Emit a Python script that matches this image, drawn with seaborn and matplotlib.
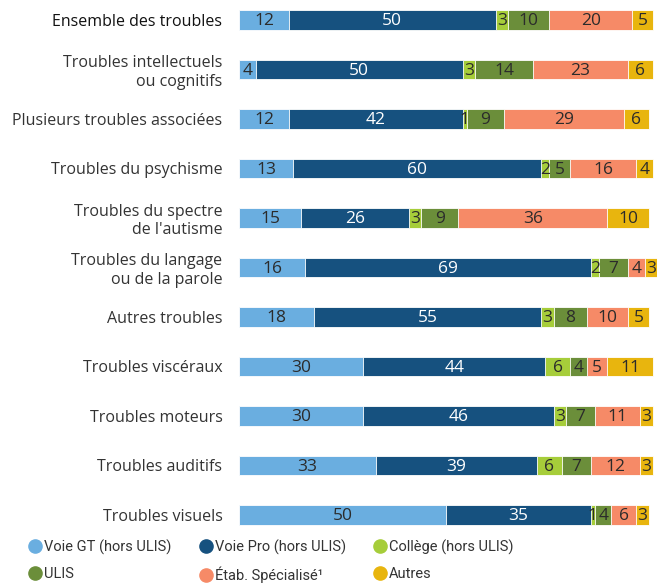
import matplotlib
matplotlib.use("Agg")
import matplotlib.pyplot as plt
from matplotlib.lines import Line2D
import numpy as np
import pandas as pd
import seaborn as sns

categories = [
    "Ensemble des troubles",
    "Troubles intellectuels\nou cognitifs",
    "Plusieurs troubles associées",
    "Troubles du psychisme",
    "Troubles du spectre\nde l'autisme",
    "Troubles du langage\nou de la parole",
    "Autres troubles",
    "Troubles viscéraux",
    "Troubles moteurs",
    "Troubles auditifs",
    "Troubles visuels",
]
series = ["Voie GT (hors ULIS)", "Voie Pro (hors ULIS)", "Collège (hors ULIS)",
          "ULIS", "Étab. Spécialisé¹", "Autres"]
voie_gt = [12, 4, 12, 13, 15, 16, 18, 30, 30, 33, 50]
voie_pro = [50, 50, 42, 60, 26, 69, 55, 44, 46, 39, 35]
college = [3, 3, 1, 2, 3, 2, 3, 6, 3, 6, 1]
ulis = [10, 14, 9, 5, 9, 7, 8, 4, 7, 7, 4]
etab = [20, 23, 29, 16, 36, 4, 10, 5, 11, 12, 6]
autres = [5, 6, 6, 4, 10, 3, 5, 11, 3, 3, 3]

colors = ["#6aaee0", "#16517f", "#a6cd3a", "#6b8e3a", "#f68a67", "#e8b50e"]
text_colors = ["#2b2b2b", "white", "#2b2b2b", "#2b2b2b", "#2b2b2b", "#2b2b2b"]

df = pd.DataFrame(dict(zip(series, [voie_gt, voie_pro, college, ulis, etab, autres])),
                  index=categories)
cum = df.cumsum(axis=1)

sns.set_style("white")
plt.rcParams["font.family"] = ["Open Sans", "DejaVu Sans"]

fig = plt.figure(figsize=(6.57, 5.84), dpi=100)
ax = fig.add_axes([0.364, 0.0925, 0.636, 0.9075])

long = cum.reset_index().rename(columns={"index": "cat"})
for s, c in reversed(list(zip(series, colors))):
    sns.barplot(data=long, x=s, y="cat", color=c, width=0.4, orient="h",
                edgecolor="white", linewidth=0.6, saturation=1, ax=ax)

for i, cat in enumerate(categories):
    left = 0
    for s, tc in zip(series, text_colors):
        v = df.loc[cat, s]
        ax.text(left + v / 2, i + 0.03, f"{v}", ha="center", va="center",
                color=tc, fontsize=12.5)
        left += v

ax.set_xlim(0, cum.values.max())
ax.set_ylim(10.303, -0.404)
ax.set_xlabel("")
ax.set_ylabel("")
ax.set_xticks([])
ax.tick_params(axis="y", length=0, pad=12, labelsize=11.5, labelcolor="#333333")
for lab in ax.get_yticklabels():
    if lab.get_text() == "Ensemble des troubles":
        lab.set_color("#111111")
sns.despine(ax=ax, left=True, bottom=True)

handles = [Line2D([], [], marker="o", linestyle="", markersize=9.5,
                  markerfacecolor=c, markeredgecolor=c) for c in colors]
order = [0, 3, 1, 4, 2, 5]
fig.legend([handles[i] for i in order], [series[i] for i in order],
           ncol=3, loc="lower left", bbox_to_anchor=(0.044, 0.001),
           frameon=False, handletextpad=0.2,
           prop={"family": ["Roboto", "DejaVu Sans"], "size": 10.5},
           columnspacing=1.9, labelspacing=0.85, handlelength=0.85,
           borderpad=0, borderaxespad=0, labelcolor="#333333")

fig.savefig("out.png", dpi=100)
